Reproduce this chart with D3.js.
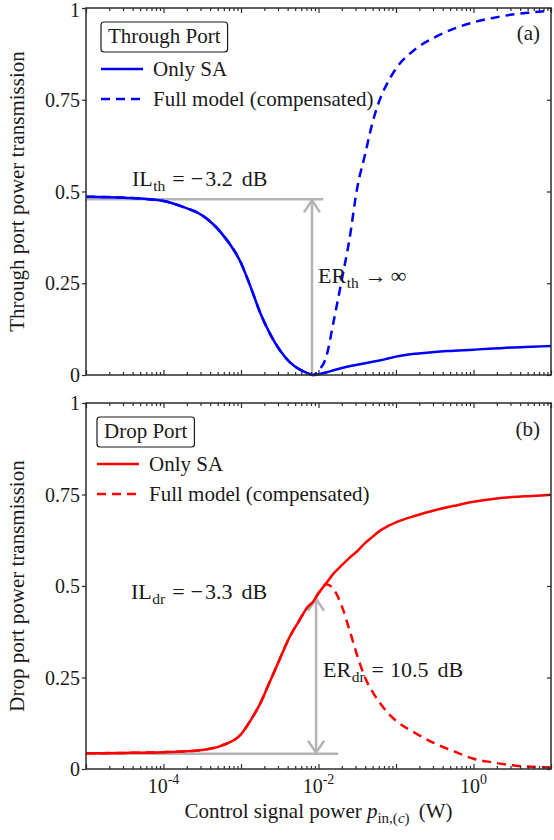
<!DOCTYPE html>
<html>
<head>
<meta charset="utf-8">
<script src="https://cdn.jsdelivr.net/npm/d3@7"></script>
<style>
  body { margin: 0; background: #fff; }
  svg { display: block; }
  svg text { font-family: "Liberation Serif", "Times New Roman", Times, "Nimbus Roman", "DejaVu Serif", serif; fill: #1a1a1a; }
</style>
</head>
<body>
<svg id="chart" width="554" height="840"></svg>
<script>
// Control signal power grid (W)
const powerW = [
  1.0e-5, 3.16e-5, 1.0e-4, 1.78e-4, 3.16e-4, 5.62e-4, 1.0e-3, 1.33e-3, 1.78e-3, 2.37e-3,
  3.16e-3, 4.22e-3, 5.62e-3, 7.08e-3, 8.51e-3, 1.0e-2, 1.26e-2, 1.58e-2, 2.0e-2, 2.51e-2,
  3.16e-2, 3.98e-2, 5.01e-2, 6.31e-2, 7.94e-2, 0.1, 0.178, 0.316, 0.562, 1.0,
  1.78, 3.16, 5.62, 10.0
];

// Through port transmission
const throughOnlySA = [
  0.486, 0.483, 0.474, 0.458, 0.435, 0.386, 0.305, 0.240, 0.168, 0.112,
  0.068, 0.036, 0.016, 0.006, 0.000, 0.002, 0.007, 0.013, 0.019, 0.024,
  0.028, 0.032, 0.036, 0.040, 0.045, 0.050, 0.058, 0.063, 0.066, 0.069,
  0.072, 0.075, 0.077, 0.079
];
const throughFull = [
  0.486, 0.483, 0.474, 0.458, 0.435, 0.386, 0.305, 0.240, 0.168, 0.112,
  0.068, 0.036, 0.016, 0.006, 0.000, 0.012, 0.050, 0.150, 0.260, 0.370,
  0.510, 0.600, 0.690, 0.755, 0.800, 0.835, 0.888, 0.920, 0.944, 0.961,
  0.973, 0.982, 0.988, 0.993
];

// Drop port transmission
const dropOnlySA = [
  0.043, 0.044, 0.046, 0.048, 0.052, 0.064, 0.095, 0.133, 0.180, 0.240,
  0.300, 0.360, 0.405, 0.440, 0.457, 0.480, 0.508, 0.535, 0.557, 0.577,
  0.595, 0.617, 0.635, 0.652, 0.664, 0.674, 0.692, 0.707, 0.719, 0.730,
  0.738, 0.743, 0.746, 0.749
];
const dropFull = [
  0.043, 0.044, 0.046, 0.048, 0.052, 0.064, 0.095, 0.133, 0.180, 0.240,
  0.300, 0.360, 0.405, 0.440, 0.457, 0.480, 0.505, 0.490, 0.445, 0.380,
  0.310, 0.250, 0.210, 0.178, 0.152, 0.132, 0.098, 0.070, 0.048, 0.028,
  0.018, 0.010, 0.006, 0.004
];

// Axis ticks
const yTicks = [0, 0.25, 0.5, 0.75, 1];
const yTickLabels = ["0", "0.25", "0.5", "0.75", "1"];
const xLabelValues = [1e-4, 1e-2, 1];
const xLabelExponents = ["-4", "-2", "0"];

// Annotated figures of merit
const ilThroughDb = -3.2;
const ilDropDb = -3.3;
const erDropDb = 10.5;
const thArrowP = 8.24e-3, thLineEndP = 1.15e-2;
const drArrowP = 9.3e-3, drLineEndP = 1.79e-2;

const svg = d3.select("#chart");
const left = 86, right = 551;

const x = d3.scaleLog().domain([1e-5, 10]).range([left, right]);

const panels = [
  { top: 8, bottom: 375, color: "#0000ff", solid: throughOnlySA, dashed: throughFull,
    title: "Through Port", tag: "(a)", ylabel: "Through port power transmission", showX: false },
  { top: 403, bottom: 769, color: "#ff0000", solid: dropOnlySA, dashed: dropFull,
    title: "Drop Port", tag: "(b)", ylabel: "Drop port power transmission", showX: true }
];

// minor + major x ticks
const xMajor = d3.range(-5, 2).map(e => Math.pow(10, e));
const xMinor = [];
for (let e = -5; e < 1; e++) for (let m = 2; m <= 9; m++) xMinor.push(m * Math.pow(10, e));

const axisColor = "#2b2b2b";
const grey = "#b4b4b4";

function chevron(g, px, py, dir) {
  // dir = -1 pointing up, +1 pointing down
  const hw = 8, h = 12;
  g.append("path")
    .attr("d", `M${px - hw},${py - dir * h} L${px},${py} L${px + hw},${py - dir * h}`)
    .attr("fill", "none").attr("stroke", grey).attr("stroke-width", 2.5)
    .attr("stroke-linejoin", "miter");
}

// math-style label: main symbol, upright subscript, then spaced pieces
function mathLabel(g, px, py, main, sub, pieces) {
  const t = g.append("text").attr("x", px).attr("y", py).attr("font-size", 22);
  t.append("tspan").text(main);
  t.append("tspan").attr("dy", 5).attr("font-size", 15.5).attr("dx", 0.5).text(sub);
  pieces.forEach((p, i) => {
    const s = t.append("tspan").attr("dx", p[1]).text(p[0]);
    if (i === 0) s.attr("dy", -5);
  });
  return t;
}

panels.forEach((P, idx) => {
  const y = d3.scaleLinear().domain([0, 1]).range([P.bottom, P.top]);
  const g = svg.append("g");

  const line = d3.line()
    .x((d, i) => x(powerW[i]))
    .y(d => y(d))
    .curve(d3.curveMonotoneX);

  // clip to plot area
  const clipId = "clip" + idx;
  svg.append("clipPath").attr("id", clipId).append("rect")
    .attr("x", left).attr("y", P.top - 2).attr("width", right - left).attr("height", P.bottom - P.top + 4);

  // annotation lines
  const ann = g.append("g");
  if (idx === 0) {
    const il = Math.pow(10, ilThroughDb / 10);
    ann.append("line").attr("x1", left).attr("x2", x(thLineEndP))
      .attr("y1", y(il)).attr("y2", y(il)).attr("stroke", grey).attr("stroke-width", 2.5);
    ann.append("line").attr("x1", x(thArrowP)).attr("x2", x(thArrowP))
      .attr("y1", y(0)).attr("y2", y(il)).attr("stroke", grey).attr("stroke-width", 2.5);
    chevron(ann, x(thArrowP), y(il) + 1, -1);
  } else {
    const il = Math.pow(10, ilDropDb / 10);
    const floor = il / Math.pow(10, erDropDb / 10);
    ann.append("line").attr("x1", left).attr("x2", x(drLineEndP))
      .attr("y1", y(floor)).attr("y2", y(floor)).attr("stroke", grey).attr("stroke-width", 2.5);
    ann.append("line").attr("x1", x(drArrowP)).attr("x2", x(drArrowP))
      .attr("y1", y(floor)).attr("y2", y(il)).attr("stroke", grey).attr("stroke-width", 2.5);
    chevron(ann, x(drArrowP), y(il) + 1, -1);
    chevron(ann, x(drArrowP), y(floor) - 1, 1);
  }

  // curves
  const curves = g.append("g").attr("clip-path", `url(#${clipId})`);
  curves.append("path").datum(P.solid).attr("d", line)
    .attr("fill", "none").attr("stroke", P.color).attr("stroke-width", 2.5);
  curves.append("path").datum(P.dashed).attr("d", line)
    .attr("fill", "none").attr("stroke", P.color).attr("stroke-width", 2.5)
    .attr("stroke-dasharray", "9,6");

  // axes
  const ax = g.append("g").attr("class", "axes");
  const styleAxis = sel => {
    sel.selectAll("path.domain").remove();
    sel.selectAll("line").attr("stroke", axisColor).attr("stroke-width", 1.2);
  };
  ax.append("g").attr("transform", `translate(0,${P.bottom})`)
    .call(d3.axisBottom(x).tickValues(xMajor).tickSize(-5).tickFormat(""))
    .call(styleAxis);
  ax.append("g").attr("transform", `translate(0,${P.bottom})`)
    .call(d3.axisBottom(x).tickValues(xMinor).tickSize(-3).tickFormat(""))
    .call(styleAxis);
  ax.append("g").attr("transform", `translate(0,${P.top})`)
    .call(d3.axisTop(x).tickValues(xMajor).tickSize(-5).tickFormat(""))
    .call(styleAxis);
  ax.append("g").attr("transform", `translate(0,${P.top})`)
    .call(d3.axisTop(x).tickValues(xMinor).tickSize(-3).tickFormat(""))
    .call(styleAxis);
  ax.append("g").attr("transform", `translate(${left},0)`)
    .call(d3.axisLeft(y).tickValues(yTicks).tickSize(4).tickFormat(""))
    .call(styleAxis);
  ax.append("g").attr("transform", `translate(${right},0)`)
    .call(d3.axisRight(y).tickValues(yTicks).tickSize(-4).tickFormat(""))
    .call(styleAxis);

  // frame
  ax.append("rect").attr("x", left).attr("y", P.top)
    .attr("width", right - left).attr("height", P.bottom - P.top)
    .attr("fill", "none").attr("stroke", axisColor).attr("stroke-width", 1.5);

  // y tick labels
  yTicks.forEach((v, i) => {
    g.append("text").attr("x", left - 6).attr("y", Math.max(y(v) + 7, 17))
      .attr("text-anchor", "end").attr("font-size", 20).text(yTickLabels[i]);
  });

  // y label
  g.append("text")
    .attr("transform", `translate(24,${(P.top + P.bottom) / 2}) rotate(-90)`)
    .attr("text-anchor", "middle").attr("font-size", 21).text(P.ylabel);

  // panel tag
  g.append("text").attr("x", 540).attr("y", P.top + (idx === 0 ? 32 : 33))
    .attr("text-anchor", "end").attr("font-size", 21).text(P.tag);

  // legend
  const lx = idx === 0 ? 101 : 97;
  const ly = P.top;
  const leg = g.append("g");
  const titleText = leg.append("text").attr("x", lx + 7).attr("y", ly + 35)
    .attr("font-size", 21).text(P.title);
  const tw = titleText.node().getComputedTextLength();
  leg.insert("rect", "text").attr("x", lx).attr("y", ly + 14)
    .attr("width", tw + 14).attr("height", 30).attr("rx", 3)
    .attr("fill", "#fff").attr("stroke", "#1a1a1a").attr("stroke-width", 1.2);
  const rows = [
    { label: "Only SA", dash: null, dy: 61 },
    { label: "Full model (compensated)", dash: "9,6", dy: 91 }
  ];
  rows.forEach(r => {
    leg.append("line").attr("x1", lx).attr("x2", lx + 42)
      .attr("y1", ly + r.dy).attr("y2", ly + r.dy)
      .attr("stroke", P.color).attr("stroke-width", 2.5)
      .attr("stroke-dasharray", r.dash);
    leg.append("text").attr("x", lx + 52).attr("y", ly + r.dy + 7)
      .attr("font-size", 21).text(r.label);
  });

  // annotation text
  if (idx === 0) {
    mathLabel(g, 132, 186, "IL", "th", [["=", 7], ["\u2212", 6], ["3.2", 2], ["dB", 9]]);
    mathLabel(g, 318, 283, "ER", "th", [["\u2192", 6], ["\u221E", 4]]);
  } else {
    mathLabel(g, 131, 599, "IL", "dr", [["=", 7], ["\u2212", 6], ["3.3", 2], ["dB", 9]]);
    mathLabel(g, 323, 677, "ER", "dr", [["=", 7], ["10.5", 6], ["dB", 9]]);
  }

  // x tick labels (bottom panel only)
  if (P.showX) {
    xLabelValues.forEach((v, i) => {
      const t = g.append("text").attr("x", x(v)).attr("y", P.bottom + 24)
        .attr("text-anchor", "middle").attr("font-size", 20);
      t.append("tspan").text("10");
      t.append("tspan").attr("dy", -9).attr("font-size", 14).text(xLabelExponents[i]);
    });
    const xl = g.append("text").attr("x", (left + right) / 2).attr("y", 818)
      .attr("text-anchor", "middle").attr("font-size", 21);
    xl.append("tspan").text("Control signal power ");
    xl.append("tspan").attr("font-style", "italic").text("p");
    xl.append("tspan").attr("dy", 5).attr("font-size", 15).text("in,(");
    xl.append("tspan").attr("font-size", 15).attr("font-style", "italic").text("c");
    xl.append("tspan").attr("font-size", 15).text(")");
    xl.append("tspan").attr("dy", -5).attr("dx", 4).text(" (W)");
  }
});
</script>
</body>
</html>
